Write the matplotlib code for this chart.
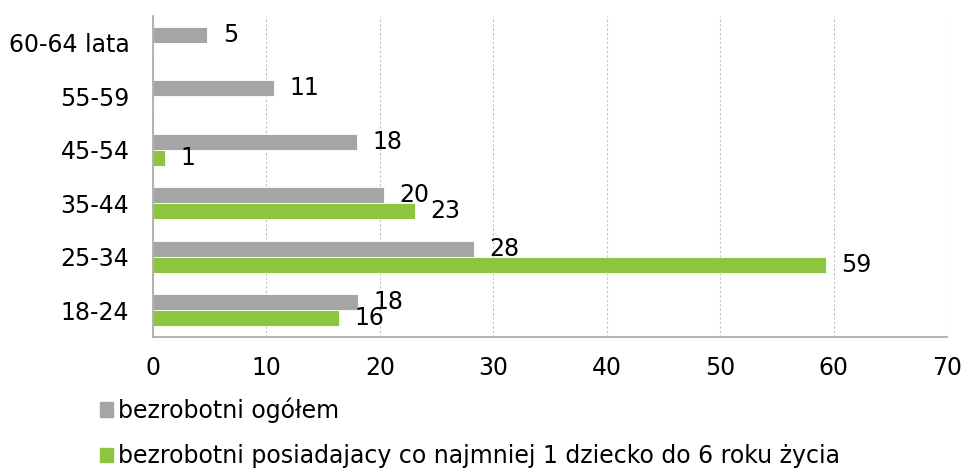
import numpy as np
import matplotlib
matplotlib.use('Agg')
import matplotlib.pyplot as plt
from matplotlib.patches import Patch

plt.rcParams['font.family'] = ['DejaVu Sans']

# age groups, bottom to top
groups = ['18-24', '25-34', '35-44', '45-54', '55-59', '60-64 lata']
ogolem = [18.1, 28.3, 20.4, 18.0, 10.7, 4.8]
z_dzieckiem = [16.4, 59.3, 23.1, 1.1, 0, 0]

names = ['bezrobotni ogółem',
         'bezrobotni posiadajacy co najmniej 1 dziecko do 6 roku życia']
gray = '#A5A5A5'
green = '#8CC63F'

fig, ax = plt.subplots(figsize=(9.64, 4.69), dpi=100)
fig.subplots_adjust(left=0.1587, right=0.9824, bottom=0.2814, top=0.9659)

y = np.arange(len(groups))
h = 0.3
b1 = ax.barh(y + h / 2, ogolem, h, color=gray, edgecolor='white', linewidth=0.6)
b2 = ax.barh(y - h / 2, z_dzieckiem, h, color=green, edgecolor='white', linewidth=0.6)

ax.bar_label(b1, labels=['%d' % round(v) for v in ogolem],
             padding=11, fontsize=17)
ax.bar_label(b2, labels=['%d' % round(v) if v > 0 else '' for v in z_dzieckiem],
             padding=11, fontsize=17)

ax.set_xlim(0, 70)
ax.set_ylim(-0.5, len(groups) - 0.5)
ax.set_xticks(range(0, 71, 10))
ax.set_yticks(y, labels=groups)
ax.tick_params(axis='both', length=0, labelsize=17)
ax.tick_params(axis='y', pad=17)
ax.tick_params(axis='x', pad=14)

ax.grid(axis='x', color='#BFBFBF', linestyle=(0, (2, 2)), linewidth=0.8)
ax.set_axisbelow(True)
for s in ['top', 'right']:
    ax.spines[s].set_visible(False)
for s in ['left', 'bottom']:
    ax.spines[s].set_color('#A6A6A6')
    ax.spines[s].set_linewidth(1.2)

handles = [Patch(color=gray), Patch(color=green)]
fig.legend(handles, names, loc='upper left', bbox_to_anchor=(0.104, 0.153),
           frameon=False, fontsize=17, handlelength=0.55, handleheight=0.55,
           handletextpad=0.2, labelspacing=0.9, borderpad=0, borderaxespad=0)

fig.savefig('out.png', dpi=100)
